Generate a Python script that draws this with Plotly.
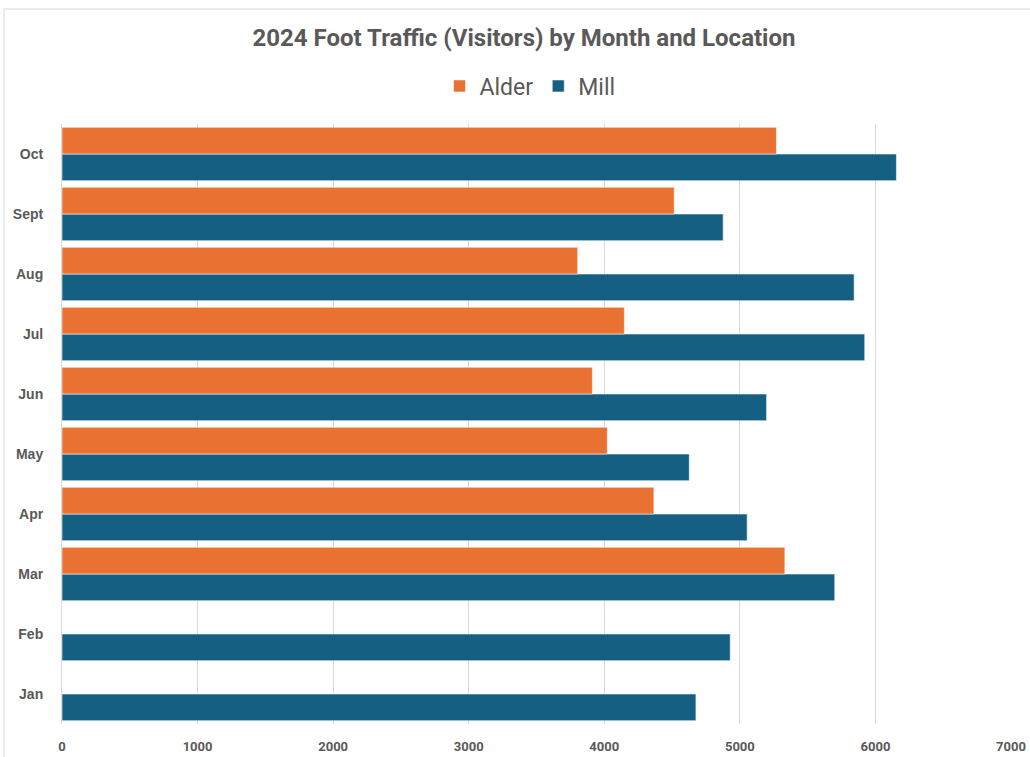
import plotly.graph_objects as go

months = ["Jan", "Feb", "Mar", "Apr", "May", "Jun", "Jul", "Aug", "Sept", "Oct"]
alder = [None, None, 5332, 4366, 4022, 3912, 4148, 3804, 4516, 5270]
mill = [4676, 4929, 5700, 5054, 4627, 5197, 5921, 5843, 4877, 6155]
x_ticks = [0, 1000, 2000, 3000, 4000, 5000, 6000, 7000]

W, H = 1030, 757
ML, MR, MT, MB = 62, 19, 124, 33
PW, PH = W - ML - MR, H - MT - MB

def px_to_paper_x(px):
    return (px - ML) / PW

def px_to_paper_y(py):
    return (H - MB - py) / PH

NARROW = "Roboto, sans-serif"
GREY = "#595959"

fig = go.Figure()
fig.add_trace(go.Bar(
    y=months, x=mill, name="Mill", orientation="h",
    marker=dict(color="#156082", line=dict(color="rgba(255,255,255,0.55)", width=1)),
    legendrank=2,
))
fig.add_trace(go.Bar(
    y=months, x=alder, name="Alder", orientation="h",
    marker=dict(color="#E97132", line=dict(color="rgba(255,255,255,0.55)", width=1)),
    legendrank=1,
))

fig.update_layout(
    width=W, height=H,
    margin=dict(l=ML, r=MR, t=MT, b=MB, autoexpand=False),
    paper_bgcolor="white", plot_bgcolor="white",
    barmode="group", bargap=0.11, bargroupgap=0,
    title=dict(
        text="<b>2024 Foot Traffic (Visitors) by Month and Location</b>",
        x=524 / W, xanchor="center", xref="container",
        y=1 - 38 / H, yanchor="middle", yref="container",
        font=dict(family=NARROW, size=24, color=GREY),
    ),
    legend=dict(
        orientation="h", x=530 / W, xref="container", xanchor="center",
        y=1 - 86 / H, yref="container", yanchor="middle",
        font=dict(family=NARROW, size=23, color=GREY),
        itemwidth=30, traceorder="normal",
    ),
    xaxis=dict(
        range=[0, 7000], tickvals=x_ticks, showgrid=True, automargin=False,
        gridcolor="#d9d9d9", gridwidth=1, zeroline=False, showline=False,
        tickfont=dict(family=NARROW, size=13, color=GREY, weight="bold"),
        ticks="", ticklabelstandoff=13,
    ),
    yaxis=dict(
        type="category", categoryorder="array", categoryarray=months,
        automargin=False,
        showline=True, linecolor="#d9d9d9", linewidth=1,
        showgrid=False, ticks="",
        tickfont=dict(family="Liberation Sans, Arial, sans-serif", size=14, color=GREY, weight="bold"),
        ticklabelstandoff=15,
    ),
    shapes=[dict(
        type="rect", xref="paper", yref="paper",
        x0=px_to_paper_x(4), x1=px_to_paper_x(1040),
        y0=px_to_paper_y(770), y1=px_to_paper_y(9),
        line=dict(color="#d9d9d9", width=1), fillcolor="rgba(0,0,0,0)",
        layer="below",
    )],
)

fig.write_html(
    "out.html",
    config={"displayModeBar": False},
    post_script="document.body.style.margin='0';document.body.style.overflow='hidden';",
)
